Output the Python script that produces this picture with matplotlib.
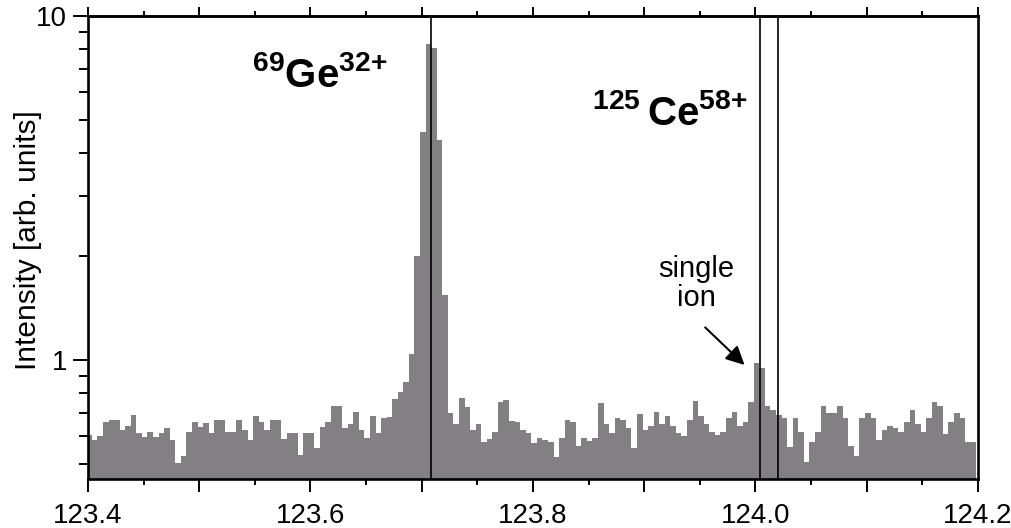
import numpy as np
import matplotlib
matplotlib.use("Agg")
import matplotlib.pyplot as plt
from matplotlib.ticker import MultipleLocator, FixedLocator, FuncFormatter, NullFormatter

plt.rcParams['font.family'] = ['Liberation Sans', 'DejaVu Sans']
plt.rcParams['mathtext.fontset'] = 'custom'
plt.rcParams['mathtext.rm'] = 'Liberation Sans'
plt.rcParams['mathtext.bf'] = 'Liberation Sans:bold'

# histogram data: 0.005 wide bins
bin_start = 123.3985
bin_width = 0.005
intensity = [
    0.605, 0.585, 0.601, 0.662, 0.669, 0.669, 0.626, 0.643, 0.692, 0.612,
    0.596, 0.619, 0.596, 0.612, 0.636, 0.585, 0.501, 0.526, 0.619, 0.662,
    0.640, 0.655, 0.612, 0.669, 0.669, 0.619, 0.619, 0.669, 0.626, 0.585,
    0.689, 0.662, 0.626, 0.669, 0.669, 0.588, 0.612, 0.612, 0.529, 0.615,
    0.615, 0.554, 0.640, 0.662, 0.735, 0.735, 0.633, 0.652, 0.705, 0.626,
    0.595, 0.687, 0.615, 0.680, 0.684, 0.769, 0.809, 0.865, 1.04, 2.01,
    4.59, 8.29, 8.09, 4.36, 1.55, 0.700, 0.652, 0.774, 0.729, 0.626,
    0.652, 0.579, 0.588, 0.616, 0.757, 0.765, 0.667, 0.662, 0.626, 0.612,
    0.573, 0.592, 0.585, 0.579, 0.521, 0.592, 0.669, 0.662, 0.564, 0.592,
    0.580, 0.592, 0.751, 0.652, 0.612, 0.677, 0.669, 0.633, 0.556, 0.697,
    0.626, 0.643, 0.705, 0.652, 0.688, 0.643, 0.612, 0.601, 0.669, 0.762,
    0.688, 0.652, 0.619, 0.605, 0.619, 0.677, 0.705, 0.643, 0.662, 0.757,
    0.978, 0.946, 0.735, 0.716, 0.692, 0.677, 0.557, 0.677, 0.616, 0.506,
    0.576, 0.619, 0.735, 0.703, 0.703, 0.735, 0.677, 0.562, 0.527, 0.677,
    0.703, 0.677, 0.585, 0.626, 0.645, 0.633, 0.619, 0.659, 0.716, 0.652,
    0.619, 0.677, 0.757, 0.735, 0.609, 0.659, 0.703, 0.677, 0.576, 0.576,
]
line_positions = [123.708, 124.004, 124.020]

edges = bin_start + bin_width * np.arange(len(intensity) + 1)

fig = plt.figure(figsize=(10.11, 5.28), dpi=100)
ax = fig.add_axes([0.0870, 0.0928, 0.8803, 0.8769])

ax.stairs(intensity, edges, fill=True, baseline=0.01, color='#838083')
for xp in line_positions:
    ax.axvline(xp, color='black', lw=1.2)

ax.set_yscale('log')
ax.set_xlim(123.4, 124.2)
ax.set_ylim(0.451, 10)

for s in ax.spines.values():
    s.set_linewidth(1.9)

# bottom axis
ax.xaxis.set_major_locator(MultipleLocator(0.1))
ax.xaxis.set_minor_locator(MultipleLocator(0.05))
ax.xaxis.set_major_formatter(FuncFormatter(
    lambda v, p: ('%.1f' % v) if round(v * 10) % 2 == 0 else ''))
ax.tick_params(axis='x', which='major', direction='out', length=9, width=1.4,
               labelsize=20, pad=8, top=False)
ax.tick_params(axis='x', which='minor', direction='out', length=4, width=1.4, top=False)

# top axis ticks
top = ax.secondary_xaxis('top')
top.xaxis.set_major_locator(MultipleLocator(0.1))
top.xaxis.set_minor_locator(MultipleLocator(0.05))
top.xaxis.set_major_formatter(NullFormatter())
top.tick_params(which='major', direction='out', length=6.5, width=1.4)
top.tick_params(which='minor', direction='out', length=3.5, width=1.4)
top.spines['top'].set_linewidth(1.9)

# left axis
ax.yaxis.set_major_locator(FixedLocator([1, 10]))
ax.yaxis.set_major_formatter(FuncFormatter(lambda v, p: '%d' % v))
ax.yaxis.set_minor_locator(FixedLocator([0.5, 0.6, 0.7, 0.8, 0.9, 2, 3, 4, 5, 6, 7, 8, 9]))
ax.yaxis.set_minor_formatter(NullFormatter())
ax.tick_params(axis='y', which='major', direction='out', length=11, width=1.4,
               labelsize=20, pad=4, right=False)
ax.tick_params(axis='y', which='minor', direction='out', length=6.5, width=1.4, right=False)
fig.text(28 / 1011, 1 - 240 / 528, 'Intensity [arb. units]', rotation=90,
         fontsize=21.5, ha='center', va='center')

ax.text(0.184, 0.847, r'$\mathbf{{}^{69}Ge^{32{+}}}$', transform=ax.transAxes,
        fontsize=29, ha='left', va='baseline')
ax.text(0.566, 0.765, r'$\mathbf{{}^{125}\/Ce^{58{+}}}$', transform=ax.transAxes,
        fontsize=29, ha='left', va='baseline')
ax.text(0.684, 0.423, 'single\nion', transform=ax.transAxes, fontsize=21,
        ha='center', va='center', linespacing=1.05)
ax.annotate('', xy=(123.992, 0.955), xytext=(123.953, 1.26),
            arrowprops=dict(arrowstyle='-|>', color='black', lw=1.5, mutation_scale=28))

fig.savefig('out.png', dpi=100)
